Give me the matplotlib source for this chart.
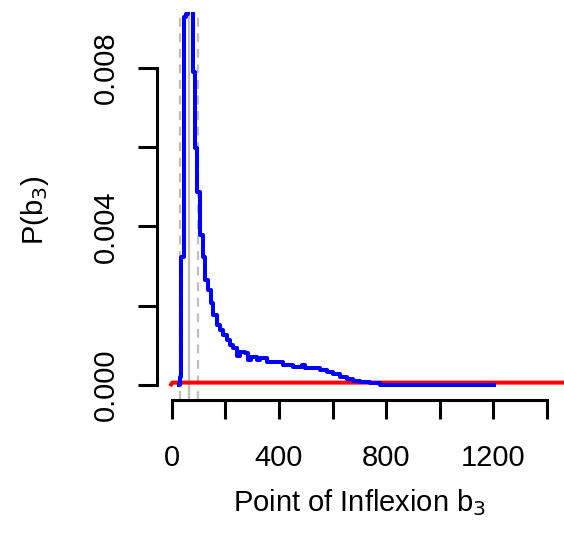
import matplotlib
matplotlib.use("Agg")
import matplotlib.pyplot as plt
import numpy as np

plt.rcParams['font.family'] = ['Liberation Sans', 'DejaVu Sans']

# posterior of b3 (step curve)
b3_x = [28, 30, 35, 44, 53, 61, 78, 87, 95, 106, 118, 126, 134, 145, 155, 168,
        180, 191, 205, 217, 229, 242, 255, 273, 285, 296, 317, 329, 354, 392,
        416, 454, 485, 497, 528, 553, 578, 603, 628, 653, 678, 703, 740, 777,
        827, 889, 1000, 1100, 1203]
b3_p = [0.0, 0.0002, 0.00323, 0.00929, 0.00936, 0.0102, 0.0079, 0.00598,
        0.00487, 0.00379, 0.00323, 0.00265, 0.0024, 0.00207, 0.00177, 0.00151,
        0.00139, 0.00126, 0.00114, 0.00101, 0.00093, 0.00073, 0.00084, 0.00081,
        0.00063, 0.00071, 0.00063, 0.00067, 0.00059, 0.00059, 0.0005, 0.00046,
        0.0005, 0.00042, 0.00042, 0.00038, 0.00034, 0.00028, 0.00021, 0.00014,
        0.00011, 0.000076, 0.000043, 0.000012, 0.000004, 0.000002, 0.000001,
        0.000001, 0.000001]

# prior (red)
prior_x = [-6, 2, 1500]
prior_p = [-0.00003, 0.00006, 0.00006]

# summary lines: lower, median, upper
b3_median = 64.5
b3_ci = [29, 98]

xticks = [0, 200, 400, 600, 800, 1000, 1200, 1400]
xlabs = ['0', '', '400', '', '800', '', '1200', '']
yticks = [0, 0.002, 0.004, 0.006, 0.008]
ylabs = ['0.000', '', '0.004', '', '0.008']

W, H = 564, 544
fs = 21
fig = plt.figure(figsize=(W / 100, H / 100), dpi=100)
ax = fig.add_axes([157 / W, 1 - 400 / H, (564 - 157) / W, 388 / H])

ax.plot(prior_x, prior_p, color='#FF0000', lw=2.9, solid_capstyle='butt', zorder=2)
ax.plot(b3_x, b3_p, color='#0000FF', lw=2.9, drawstyle='steps-post', zorder=3)
ax.axvline(b3_median, color='#BEBEBE', lw=1.6, zorder=1)
for v in b3_ci:
    ax.axvline(v, color='#BEBEBE', lw=1.6, ls=(0, (4, 3)), zorder=1)

ax.set_xlim(-55, 1464)
ax.set_ylim(-0.000379, 0.00941)

for s in ['top', 'right']:
    ax.spines[s].set_visible(False)
ax.spines['left'].set_bounds(0, 0.008)
ax.spines['bottom'].set_bounds(0, 1400)
for s in ['left', 'bottom']:
    ax.spines[s].set_linewidth(2.2)

ax.set_xticks(xticks)
ax.set_xticklabels(xlabs)
ax.set_yticks(yticks)
ax.set_yticklabels(ylabs, rotation=90, va='center')
ax.tick_params(axis='both', length=14, width=2.2, labelsize=fs)
ax.tick_params(axis='x', pad=18)
ax.tick_params(axis='y', pad=13)

fig.text(360 / W, 1 - 503 / H, 'Point of Inflexion b$_3$', ha='center', va='center', fontsize=fs)
fig.text(35 / W, 1 - 210 / H, 'P(b$_3$)', ha='center', va='center', rotation=90, fontsize=fs)

fig.savefig('out.png', dpi=100)
